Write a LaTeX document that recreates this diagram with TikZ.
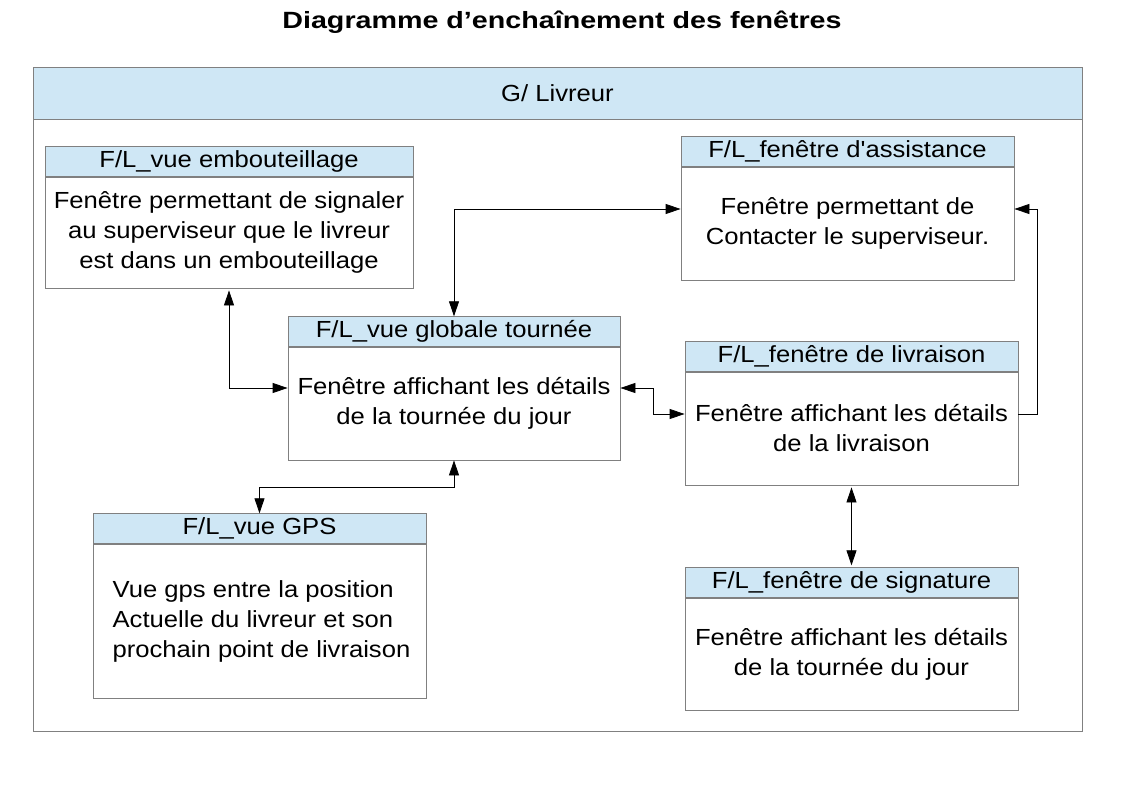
\documentclass[tikz,border=0pt]{standalone}
\usepackage{fontspec}
\setmainfont{Liberation Sans}
\newfontfamily\winfamily[FakeStretch=1.1,Ligatures=TeXOff]{Liberation Sans}
\newfontfamily\titlefamily[FakeStretch=1.22]{Liberation Sans}
\usepackage{tikz}
\usetikzlibrary{arrows.meta,calc,positioning}
\definecolor{headblue}{RGB}{207,231,245}
\definecolor{framegray}{RGB}{128,128,128}
\newcommand{\winfont}{\winfamily\fontsize{23.3}{30}\selectfont}

\begin{document}
\begin{tikzpicture}[
  x=1pt, y=-1pt,
  >={Triangle[length=15pt,width=10pt]},
  every node/.style={font=\winfont, text=black},
  winbody/.style={draw=framegray, fill=white, line width=0.8pt, inner sep=0pt, align=center},
  winhead/.style={draw=framegray, fill=headblue, line width=0.8pt, inner sep=0pt, minimum height=29.5pt},
  link/.style={<->, line width=0.8pt}]

\useasboundingbox (0,0) rectangle (1123,794);

% --- Title ---
\node[font=\titlefamily\fontsize{23.5}{28}\selectfont\bfseries] (titre) at (562,22)
  {Diagramme d’enchaînement des fenêtres};

% --- Group frame ---
\draw[framegray,line width=0.8pt] (33,119) rectangle (1082,731);
\node[winhead, minimum width=1049pt, minimum height=52pt] (livreur) at (557.5,93) {G/ Livreur};

% --- Windows: body first, title bar on top of it ---
\node[winbody, minimum width=368pt, minimum height=111pt] (emb) at (229,232.5)
  {Fenêtre permettant de signaler\\au superviseur que le livreur\\est dans un embouteillage};
\node[winhead, minimum width=368pt, above=0pt of emb] (embH) {F/L\_vue embouteillage};

\node[winbody, minimum width=333pt, minimum height=113pt] (assist) at (847.5,223.5)
  {Fenêtre permettant de\\Contacter le superviseur.};
\node[winhead, minimum width=333pt, above=0pt of assist] (assistH) {F/L\_fenêtre d'assistance};

\node[winbody, minimum width=332pt, minimum height=113pt] (glob) at (454,403.5)
  {Fenêtre affichant les détails\\de la tournée du jour};
\node[winhead, minimum width=332pt, above=0pt of glob] (globH) {F/L\_vue globale tournée};

\node[winbody, minimum width=333pt, minimum height=113pt] (livr) at (851.5,428.5)
  {Fenêtre affichant les détails\\de la livraison};
\node[winhead, minimum width=333pt, above=0pt of livr] (livrH) {F/L\_fenêtre de livraison};

\node[winbody, align=left, minimum width=333pt, minimum height=154pt] (gps) at (259.5,621)
  {\hspace*{4pt}Vue gps entre la position\\\hspace*{4pt}Actuelle du livreur et son\\\hspace*{4pt}prochain point de livraison};
\node[winhead, minimum width=333pt, above=0pt of gps] (gpsH) {F/L\_vue GPS};

\node[winbody, minimum width=333pt, minimum height=112pt] (sig) at (851.5,654)
  {Fenêtre affichant les détails\\de la tournée du jour};
\node[winhead, minimum width=333pt, above=0pt of sig] (sigH) {F/L\_fenêtre de signature};

% --- Connectors ---
\coordinate (globW) at ([yshift=15.5pt]glob.west);
\coordinate (globE) at ([yshift=15.5pt]glob.east);
\coordinate (assistW) at ([yshift=14.5pt]assist.west);
\coordinate (assistE) at ([yshift=14.5pt]assist.east);
\coordinate (livrW) at ([yshift=14.5pt]livr.west);
\coordinate (livrE) at ([yshift=14.5pt]livr.east);

\draw[link] ([yshift=-2pt]emb.south) |- (globW);
\draw[link] (globH.north) |- (assistW);
\draw[link] (globE) -- ++(33pt,0) |- (livrW);
\draw[link] (glob.south) -- ++(0,-27pt) -| (gpsH.north);
\draw[->, line width=0.8pt] (livrE) -- ++(19pt,0) |- (assistE);
\draw[link] ([yshift=-2pt]livr.south) -- ([yshift=2pt]sigH.north);

\end{tikzpicture}
\end{document}
